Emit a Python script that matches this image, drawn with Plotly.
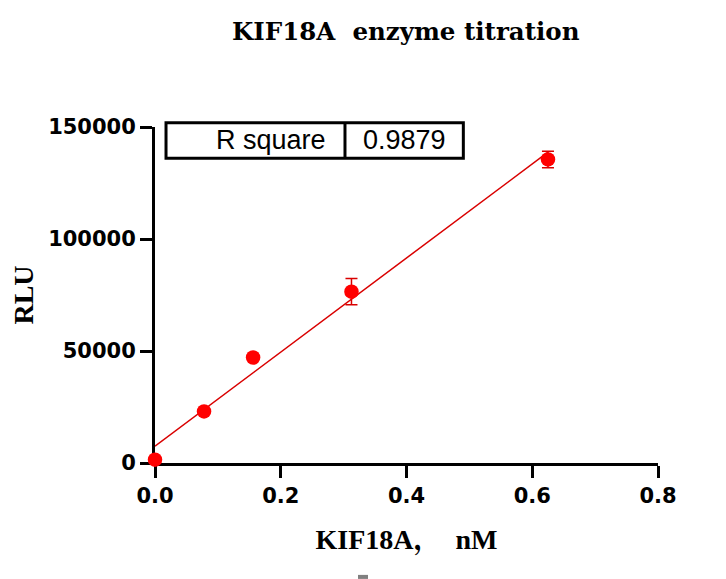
import numpy as np
import plotly.graph_objects as go

# ---- data ----
conc_nM = [0.0, 0.078, 0.156, 0.3125, 0.625]
rlu_mean = [1500, 23000, 47100, 76500, 135500]
rlu_sd = [0, 0, 0, 5900, 3700]
r_square_label = "R square"
r_square_value = "0.9879"
x_ticks = [0.0, 0.2, 0.4, 0.6, 0.8]
y_ticks = [0, 50000, 100000, 150000]

# linear regression line through the data
slope, intercept = np.polyfit(conc_nM, rlu_mean, 1)
fit_x = [min(conc_nM), max(conc_nM)]
fit_y = [slope * v + intercept for v in fit_x]

RED = "#ff0000"
LINE_RED = "#d90000"

fig = go.Figure()
fig.add_trace(go.Scatter(
    x=fit_x, y=fit_y, mode="lines",
    line=dict(color=LINE_RED, width=1.5),
    hoverinfo="skip", showlegend=False,
))
fig.add_trace(go.Scatter(
    x=conc_nM, y=rlu_mean, mode="markers",
    marker=dict(color=RED, size=14.5, symbol="circle"),
    error_y=dict(type="data", array=rlu_sd, visible=True,
                 color=LINE_RED, thickness=1.5, width=6),
    cliponaxis=False,
    showlegend=False,
))

axis_common = dict(
    showgrid=False, zeroline=False, showline=True,
    linecolor="black", linewidth=3, layer="below traces",
    ticks="outside", ticklen=12, tickwidth=3, tickcolor="black",
    tickfont=dict(family="DejaVu Sans", size=21, color="black", weight="bold"),
)

# page has an 8px body margin, so the figure is 8px smaller and offset
W, H = 718, 571
fig.update_layout(
    width=W, height=H,
    paper_bgcolor="white", plot_bgcolor="white",
    margin=dict(l=147, r=68, t=119, b=116, autoexpand=False),
    title=dict(
        text="KIF18A  enzyme titration",
        x=0.4986, xref="paper", xanchor="center",
        y=1 - 23 / H, yref="container", yanchor="middle",
        font=dict(family="DejaVu Serif", size=24.5,
                  color="black", weight="bold"),
    ),
    xaxis=dict(
        range=[0, 0.8], tickvals=x_ticks, tickformat=".1f",
        title=dict(text="KIF18A，  nM", standoff=23,
                   font=dict(family="Liberation Serif, Noto Serif CJK SC, Times New Roman",
                             size=28, color="black", weight="bold")),
        **axis_common,
    ),
    yaxis=dict(
        range=[0, 150000], tickvals=y_ticks, tickformat="d",
        title=dict(text="RLU", standoff=15,
                   font=dict(family="Liberation Serif, Times New Roman", size=28,
                             color="black", weight="bold")),
        **axis_common,
    ),
)

# R square table box
box_font = dict(family="Liberation Sans, Arial", size=27, color="black")
fig.add_shape(type="rect", xref="paper", yref="paper",
              x0=0.0219, x1=0.613, y0=0.907, y1=1.0128,
              line=dict(color="black", width=3), fillcolor="white")
fig.add_shape(type="line", xref="paper", yref="paper",
              x0=0.3777, x1=0.3777, y0=0.907, y1=1.0128,
              line=dict(color="black", width=3))
fig.add_annotation(text=r_square_label, xref="paper", yref="paper",
                   x=0.343, y=0.961, xanchor="right", yanchor="middle",
                   showarrow=False, font=box_font)
fig.add_annotation(text=r_square_value, xref="paper", yref="paper",
                   x=0.4955, y=0.961, xanchor="center", yanchor="middle",
                   showarrow=False, font=box_font)

# small gray mark at the bottom edge
fig.add_shape(type="rect", xref="paper", yref="paper",
              x0=0.4036, x1=0.4235, y0=-0.345, y1=-0.333,
              line=dict(width=0), fillcolor="#808080")

fig.write_html("out.html")
